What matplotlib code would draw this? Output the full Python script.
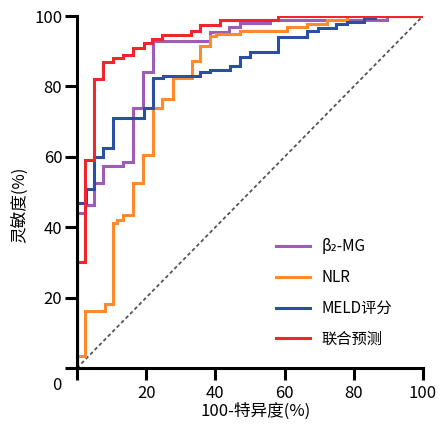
import matplotlib
matplotlib.use("Agg")
import matplotlib.pyplot as plt

plt.rcParams["font.family"] = ["Noto Sans CJK SC", "DejaVu Sans"]

# ROC step points: fpr where each jump happens, tpr after the jump (100-specificity %, sensitivity %)
b2mg_fpr = [0, 0, 2.3, 5, 7.5, 13.3, 16.2, 19, 22, 38.4, 44, 47, 55.8, 89.6, 100]
b2mg_tpr = [0, 44, 46.3, 52.5, 57.4, 58.5, 73.9, 84, 92.8, 95.5, 97, 98, 98.9, 100, 100]

nlr_fpr = [0, 0, 2.3, 8.1, 10.4, 11.6, 13.3, 16.2, 19, 22, 24.6, 27.7, 33.2, 35.5, 38.4,
           40.2, 47, 60.7, 66.5, 72.3, 78, 100]
nlr_tpr = [0, 3.4, 16.2, 18.2, 41.2, 42, 43.5, 52.5, 60.5, 73.8, 76.4, 82.4, 87.3, 91.5, 94.4,
           95, 95.8, 97, 97.7, 98.9, 100, 100]

meld_fpr = [0, 0, 2.5, 5, 7.5, 10.4, 19.5, 22, 25, 35.5, 38.4, 44.2, 47, 50, 58, 66.5,
            69.7, 75, 78, 83, 86, 100]
meld_tpr = [0, 47, 51, 60, 62.5, 71, 74, 82.5, 83, 84, 84.7, 85.7, 88.3, 89.9, 94.1, 95.7,
            96.7, 97.7, 98.4, 99.3, 100, 100]

comb_fpr = [0, 0, 2.3, 4.9, 7.5, 10.4, 13.3, 16.2, 19.4, 21.7, 24.6, 33, 35.5, 41.3, 58, 100]
comb_tpr = [0, 30, 59, 82, 87, 88, 89, 91, 92.3, 93.5, 94.6, 95.7, 97.4, 99, 100, 100]

labels = ["β₂-MG", "NLR", "MELD评分", "联合预测"]
colors = ["#9E5CB4", "#FF8A2E", "#2A50A6", "#F0262C"]

x_ticks = [0, 20, 40, 60, 80, 100]
y_ticks = [0, 20, 40, 60, 80, 100]

fig = plt.figure(figsize=(4.42, 4.33), dpi=100)
ax = fig.add_axes([0.174, 0.150, 0.783, 0.813])

# reference line
ax.plot([0, 100], [0, 100], color="#555555", lw=1.3, linestyle=(0, (2, 1.5)), zorder=1)

series = [(b2mg_fpr, b2mg_tpr), (nlr_fpr, nlr_tpr), (meld_fpr, meld_tpr), (comb_fpr, comb_tpr)]
for (fx, ty), lab, col in zip(series, labels, colors):
    ax.plot(fx, ty, drawstyle="steps-post", color=col, lw=2.2, label=lab,
            solid_joinstyle="miter", zorder=2)

ax.set_xlim(0, 100)
ax.set_ylim(0, 100)
for s in ["top", "right"]:
    ax.spines[s].set_visible(False)
for s in ["left", "bottom"]:
    ax.spines[s].set_linewidth(2.2)
ax.tick_params(width=2.2, length=8.5, labelsize=12, direction="out")
ax.tick_params(axis="x", pad=4)
ax.tick_params(axis="y", pad=2)
ax.set_xticks(x_ticks)
ax.set_yticks(y_ticks)
ax.set_xticklabels([""] + [str(v) for v in x_ticks[1:]])
ax.set_yticklabels([""] + [str(v) for v in y_ticks[1:]])
ax.text(-0.058, -0.05, "0", transform=ax.transAxes, ha="center", va="center", fontsize=12)

ax.set_xlabel("100-特异度(%)", fontsize=12)
ax.set_ylabel("灵敏度(%)", fontsize=12)
ax.xaxis.set_label_coords(0.517, -0.098)
ax.yaxis.set_label_coords(-0.142, 0.463)

ax.legend(loc="center left", bbox_to_anchor=(0.575, 0.213), frameon=False, fontsize=11,
          handlelength=2.2, handletextpad=0.8, labelspacing=0.9, borderpad=0, borderaxespad=0)

fig.savefig("out.png", dpi=100)
